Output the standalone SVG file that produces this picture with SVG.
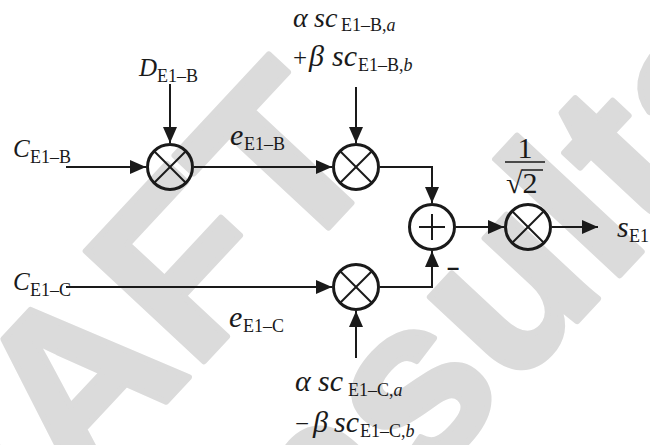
<svg xmlns="http://www.w3.org/2000/svg" width="650" height="445" viewBox="0 0 650 445">
<style>
.wm{font-family:"Liberation Sans",Arial,sans-serif;font-weight:bold;font-size:235px;fill:#dbdbdb;stroke:#dbdbdb;stroke-width:6;stroke-linejoin:round}
.node circle{fill:none;stroke:#1a1a1a;stroke-width:3}
.node line{stroke:#1a1a1a;stroke-width:2}
.conn path{fill:none;stroke:#1a1a1a;stroke-width:2}
.t{font-family:"Liberation Serif","Times New Roman",serif;font-size:25px;fill:#1a1a1a}
.i{font-style:italic}
.l{font-size:30px}
.s{font-size:18px}
.minus{font-family:"Liberation Sans",Arial,sans-serif;font-weight:bold;font-size:22px;fill:#1a1a1a}
</style>
<defs>
<marker id="ah" viewBox="0 0 16 14" refX="16" refY="7" markerWidth="16" markerHeight="14" markerUnits="userSpaceOnUse" orient="auto">
<path d="M0,0 L16,7 L0,14 Z" fill="#1a1a1a"/>
</marker>
</defs>
<rect width="650" height="445" fill="#ffffff"/>
<g id="watermark">
<text class="wm" transform="translate(-154,745) rotate(-47)">DRAFT</text>
<text class="wm" transform="translate(110,822) rotate(-47)">Consultation</text>
</g>
<g class="conn" id="connectors">
<path d="M66,167 H146" marker-end="url(#ah)"/>
<path d="M170,84 V143" marker-end="url(#ah)"/>
<path d="M194,167 H332" marker-end="url(#ah)"/>
<path d="M356,87 V143" marker-end="url(#ah)"/>
<path d="M380,167 H432 V203" marker-end="url(#ah)"/>
<path d="M66,287 H332" marker-end="url(#ah)"/>
<path d="M356,358 V311" marker-end="url(#ah)"/>
<path d="M380,287 H432 V251" marker-end="url(#ah)"/>
<path d="M456,227 H504" marker-end="url(#ah)"/>
<path d="M552,227 H598" marker-end="url(#ah)"/>
</g>
<g class="node" id="mult1"><circle cx="170" cy="167" r="22.5"/><line x1="154" y1="151" x2="186" y2="183"/><line x1="154" y1="183" x2="186" y2="151"/></g>
<g class="node" id="mult2"><circle cx="356" cy="167" r="22.5"/><line x1="340" y1="151" x2="372" y2="183"/><line x1="340" y1="183" x2="372" y2="151"/></g>
<g class="node" id="mult3"><circle cx="356" cy="287" r="22.5"/><line x1="340" y1="271" x2="372" y2="303"/><line x1="340" y1="303" x2="372" y2="271"/></g>
<g class="node" id="adder"><circle cx="432" cy="227" r="22.5"/><line x1="419" y1="227" x2="445" y2="227"/><line x1="432" y1="214" x2="432" y2="240"/></g>
<g class="node" id="mult4"><circle cx="528" cy="227" r="22.5"/><line x1="512" y1="211" x2="544" y2="243"/><line x1="512" y1="243" x2="544" y2="211"/></g>
<g id="labels">
<text class="t" x="139" y="76"><tspan class="i">D</tspan><tspan class="s" x="157" dy="6">E1–B</tspan></text>
<text class="t" x="13" y="157"><tspan class="i">C</tspan><tspan class="s" x="30" dy="6">E1–B</tspan></text>
<text class="t" x="13" y="290"><tspan class="i">C</tspan><tspan class="s" x="30" dy="6">E1–C</tspan></text>
<text class="t" x="230" y="145"><tspan class="i l">e</tspan><tspan class="s" x="244" dy="5">E1–B</tspan></text>
<text class="t" x="229" y="327"><tspan class="i l">e</tspan><tspan class="s" x="243" dy="5">E1–C</tspan></text>
<text class="t" x="293" y="27" style="font-size:22px"><tspan class="i" style="font-size:28px">α</tspan><tspan class="i" style="font-size:28px" x="314">sc</tspan><tspan class="s" x="341" dy="4">E1–B,</tspan><tspan class="s i">a</tspan></text>
<text class="t" x="293" y="66"><tspan>+</tspan><tspan class="i l" x="309">β</tspan><tspan class="i l" x="332">sc</tspan><tspan class="s" x="358" dy="5">E1–B,</tspan><tspan class="s i">b</tspan></text>
<text class="t" x="295" y="391"><tspan class="i l">α</tspan><tspan class="i l" x="318">sc</tspan><tspan class="s" x="348" dy="5">E1–C,</tspan><tspan class="s i">a</tspan></text>
<text class="t" x="295" y="432"><tspan>−</tspan><tspan class="i l" x="313">β</tspan><tspan class="i l" x="334">sc</tspan><tspan class="s" x="360" dy="5">E1–C,</tspan><tspan class="s i">b</tspan></text>
<text class="t" x="525" y="158" text-anchor="middle" style="font-size:30px">1</text>
<path d="M505,162 H545" stroke="#1a1a1a" stroke-width="1.5" fill="none"/>
<text class="t" x="506" y="193" style="font-size:30px">√2</text>
<path d="M522,170 H543" stroke="#1a1a1a" stroke-width="1.5" fill="none"/>
<text class="t" x="617" y="237"><tspan class="i l">s</tspan><tspan class="s" x="629" dy="5">E1</tspan></text>
<text class="minus" x="447" y="275">–</text>
</g>
</svg>
